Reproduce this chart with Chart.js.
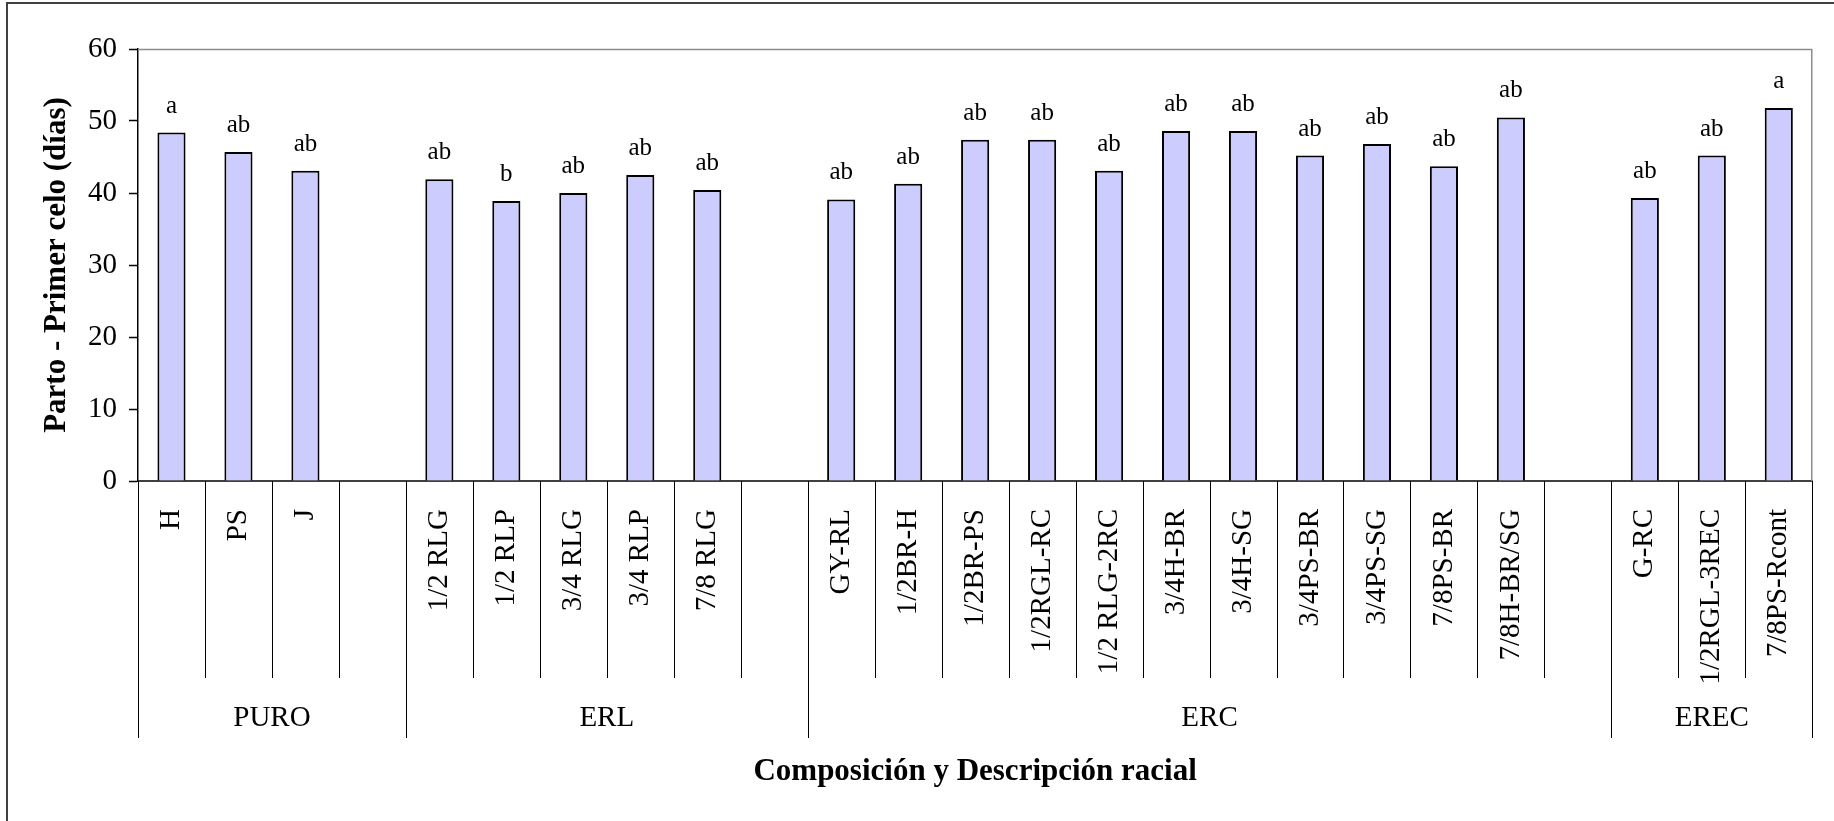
<!DOCTYPE html>
<html>
<head>
<meta charset="utf-8">
<script src="https://cdn.jsdelivr.net/npm/chart.js@4/dist/chart.umd.min.js"></script>
<style>
  html, body { margin: 0; padding: 0; background: #fff; }
  canvas { display: block; }
</style>
</head>
<body>
<canvas id="grafico" width="1834" height="821"></canvas>
<script>
// datos
const categorias = ['H', 'PS', 'J', '',
  '1/2 RLG', '1/2 RLP', '3/4 RLG', '3/4 RLP', '7/8 RLG', '',
  'GY-RL', '1/2BR-H', '1/2BR-PS', '1/2RGL-RC', '1/2 RLG-2RC', '3/4H-BR', '3/4H-SG',
  '3/4PS-BR', '3/4PS-SG', '7/8PS-BR', '7/8H-BR/SG', '',
  'G-RC', '1/2RGL-3REC', '7/8PS-Rcont'];
const valores = [48.4, 45.7, 43.1, null,
  41.9, 38.9, 40.0, 42.5, 40.4, null,
  39.1, 41.3, 47.4, 47.4, 43.1, 48.6, 48.6, 45.2, 46.8, 43.7, 50.5, null,
  39.3, 45.2, 51.8];
const letras = ['a', 'ab', 'ab', '',
  'ab', 'b', 'ab', 'ab', 'ab', '',
  'ab', 'ab', 'ab', 'ab', 'ab', 'ab', 'ab', 'ab', 'ab', 'ab', 'ab', '',
  'ab', 'ab', 'a'];
const grupos = ['PURO', 'ERL', 'ERC', 'EREC'];
const tamanoGrupo = [4, 6, 12, 3];
const ticksY = [0, 10, 20, 30, 40, 50, 60];

const fuente = "'Liberation Serif', 'Times New Roman', serif";

const decoracion = {
  id: 'decoracion',
  beforeDraw(chart) {
    const ctx = chart.ctx;
    ctx.save();
    ctx.fillStyle = '#fff';
    ctx.fillRect(0, 0, chart.width, chart.height);
    ctx.strokeStyle = '#404040';
    ctx.lineWidth = 2;
    ctx.strokeRect(7, 3, chart.width + 10, chart.height + 10);
    ctx.restore();
  },
  afterDatasetsDraw(chart) {
    const ctx = chart.ctx;
    const barras = chart.getDatasetMeta(0).data;
    ctx.save();
    ctx.font = '25px ' + fuente;
    ctx.fillStyle = '#000';
    ctx.textAlign = 'center';
    ctx.textBaseline = 'alphabetic';
    barras.forEach((b, i) => {
      if (valores[i] == null || !letras[i]) return;
      ctx.fillText(letras[i], b.x, b.y - 20);
    });
    ctx.restore();
  },
  afterDraw(chart) {
    const {ctx, chartArea: a, scales: {x}} = chart;
    ctx.save();
    // borde gris del area de trazado
    ctx.strokeStyle = '#8c8c8c';
    ctx.lineWidth = 1.5;
    ctx.beginPath();
    ctx.moveTo(a.left, a.top + 0.5);
    ctx.lineTo(a.right - 0.5, a.top + 0.5);
    ctx.lineTo(a.right - 0.5, a.bottom);
    ctx.stroke();

    // separadores de categorias y grupos
    const paso = x.getPixelForValue(1) - x.getPixelForValue(0);
    const limitesGrupo = [0];
    tamanoGrupo.forEach((n, g) => limitesGrupo.push(limitesGrupo[g] + n));
    ctx.strokeStyle = '#000';
    ctx.lineWidth = 1;
    for (let i = 0; i <= categorias.length; i++) {
      const px = Math.round(x.getPixelForValue(Math.min(i, categorias.length - 1)) + (i < categorias.length ? -paso / 2 : paso / 2));
      const largo = limitesGrupo.includes(i) ? 257 : 197;
      ctx.beginPath();
      ctx.moveTo(px + 0.5, a.bottom);
      ctx.lineTo(px + 0.5, a.bottom + largo);
      ctx.stroke();
    }

    // nombres de grupo
    ctx.font = '29px ' + fuente;
    ctx.fillStyle = '#000';
    ctx.textAlign = 'center';
    ctx.textBaseline = 'middle';
    grupos.forEach((g, k) => {
      const x0 = x.getPixelForValue(limitesGrupo[k]) - paso / 2;
      const x1 = x.getPixelForValue(limitesGrupo[k + 1] - 1) + paso / 2;
      ctx.fillText(g, (x0 + x1) / 2, a.bottom + 237);
    });
    ctx.restore();
  }
};

new Chart(document.getElementById('grafico'), {
  type: 'bar',
  data: {
    labels: categorias,
    datasets: [{
      data: valores,
      backgroundColor: '#ccccff',
      borderColor: '#000',
      borderWidth: 2,
      barPercentage: 0.42,
      categoryPercentage: 1
    }]
  },
  options: {
    responsive: false,
    animation: false,
    layout: { padding: { top: 49, right: 21, left: 0, bottom: 0 } },
    plugins: { legend: { display: false }, tooltip: { enabled: false } },
    scales: {
      x: {
        afterFit: s => { s.height = 340; },
        grid: { display: false },
        border: { display: true, color: '#404040', width: 2 },
        ticks: {
          autoSkip: false, maxRotation: 90, minRotation: 90, padding: 20,
          color: '#000', font: { family: fuente, size: 29 }
        },
        title: {
          display: true, text: 'Composición y Descripción racial', color: '#000',
          font: { family: fuente, size: 31, weight: 'bold' },
          padding: { top: 0, bottom: 30 }
        }
      },
      y: {
        min: 0, max: 60,
        afterFit: s => { s.width = 138; },
        afterBuildTicks: s => { s.ticks = ticksY.map(v => ({ value: v })); },
        grid: { drawOnChartArea: false, drawTicks: true, tickLength: 9, tickColor: '#000', tickWidth: 1.5 },
        border: { display: true, color: '#000', width: 1.5 },
        ticks: { padding: 12, color: '#000', font: { family: fuente, size: 29 } },
        title: {
          display: true, text: 'Parto - Primer celo (días)', color: '#000',
          font: { family: fuente, size: 31, weight: 'bold' },
          padding: { top: 38, bottom: 0 }
        }
      }
    }
  },
  plugins: [decoracion]
});
</script>
</body>
</html>
